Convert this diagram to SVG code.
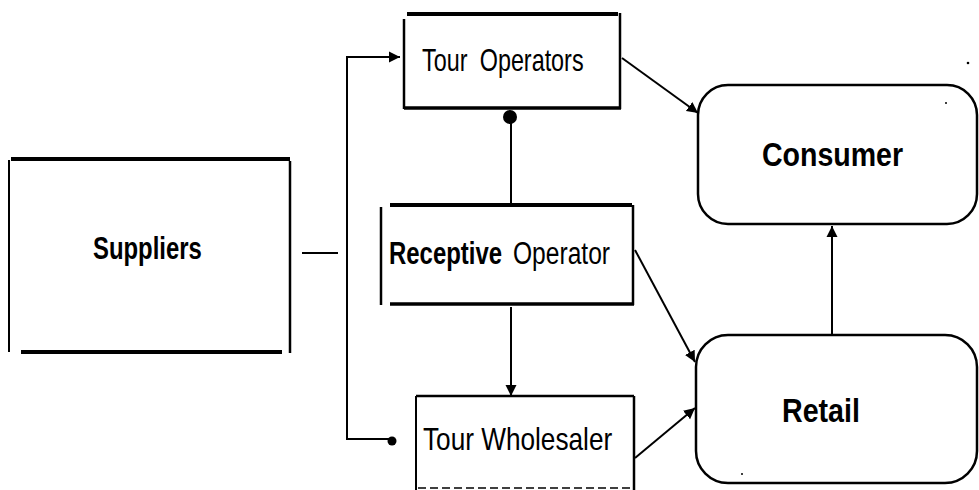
<svg xmlns="http://www.w3.org/2000/svg" width="979" height="490" viewBox="0 0 979 490">
<style>
.edge{stroke:#000;fill:none;stroke-linecap:butt}
.thick{stroke-width:4}
.side{stroke-width:2.5}
.conn{stroke:#000;stroke-width:2;fill:none}
.rbox{fill:#fff;stroke:#000;stroke-width:2.5}
.t{font-family:"Liberation Sans",Arial,sans-serif;fill:#000}
.b{font-weight:bold}
</style>
<defs>
<marker id="arr" markerUnits="userSpaceOnUse" markerWidth="12" markerHeight="12" refX="11" refY="6" orient="auto">
<path d="M0,0.5 L11,6 L0,11.5 z" fill="#000"/>
</marker>
</defs>
<rect x="0" y="0" width="979" height="490" fill="#fff"/>

<g id="suppliers">
<line class="edge thick" x1="11" y1="159" x2="290" y2="159"/>
<line class="edge" stroke-width="2" x1="9" y1="160" x2="9" y2="352"/>
<line class="edge side" x1="290" y1="161" x2="290" y2="353"/>
<line class="edge thick" x1="21" y1="352" x2="282" y2="352"/>
<text class="t b" font-size="31" transform="translate(93,259) scale(0.771,1)">Suppliers</text>
</g>

<g id="tour-operators">
<line class="edge thick" x1="407" y1="14" x2="618" y2="14"/>
<line class="edge side" x1="404" y1="19" x2="404" y2="109"/>
<line class="edge side" x1="620" y1="13" x2="620" y2="109"/>
<line class="edge" stroke-width="3.5" x1="404" y1="108" x2="621" y2="108"/>
<text class="t" font-size="32" word-spacing="8" transform="translate(422,71) scale(0.73,1)">Tour Operators</text>
</g>

<g id="receptive-operator">
<line class="edge thick" x1="390" y1="205" x2="632" y2="205"/>
<line class="edge side" x1="381" y1="207" x2="381" y2="305"/>
<line class="edge side" x1="633" y1="205" x2="633" y2="305"/>
<line class="edge" stroke-width="3.5" x1="390" y1="304" x2="634" y2="304"/>
<text class="t b" font-size="31" transform="translate(389,264) scale(0.772,1)">Receptive</text>
<text class="t" font-size="31" transform="translate(513,264) scale(0.793,1)">Operator</text>
</g>

<g id="tour-wholesaler">
<line class="edge" stroke-width="2.5" x1="416" y1="396" x2="634" y2="396"/>
<line class="edge" stroke-width="2" x1="416" y1="396" x2="416" y2="490"/>
<line class="edge" stroke-width="2.5" x1="634" y1="396" x2="634" y2="490"/>
<line class="edge" stroke="#666" stroke-width="1.5" stroke-dasharray="8 4" x1="418" y1="488" x2="632" y2="488"/>
<text class="t" font-size="31" transform="translate(423,450) scale(0.845,1)">Tour Wholesaler</text>
</g>

<g id="consumer">
<rect class="rbox" x="698" y="85" width="279" height="139" rx="30" ry="30"/>
<text class="t b" font-size="34" transform="translate(762,166) scale(0.839,1)">Consumer</text>
</g>

<g id="retail">
<rect class="rbox" x="696" y="335" width="281" height="148" rx="32" ry="32"/>
<text class="t b" font-size="34" transform="translate(782,422) scale(0.842,1)">Retail</text>
</g>

<g id="connectors">
<line class="conn" stroke-width="3" x1="302" y1="253" x2="338" y2="253"/>
<path class="conn" stroke-width="2.5" d="M391,439 H347 V57 H400" marker-end="url(#arr)"/>
<circle cx="392" cy="441" r="4.5" fill="#000"/>
<line class="conn" x1="511" y1="117" x2="511" y2="198"/>
<line class="conn" stroke="#999" stroke-width="1" x1="511" y1="198" x2="511" y2="204"/>
<circle cx="510" cy="117" r="7" fill="#000"/>
<line class="conn" x1="511" y1="307" x2="511" y2="396" marker-end="url(#arr)"/>
<line class="conn" stroke-width="2.5" x1="622" y1="58" x2="698" y2="113" marker-end="url(#arr)"/>
<line class="conn" stroke-width="2.2" x1="635" y1="250" x2="695" y2="362" marker-end="url(#arr)"/>
<line class="conn" stroke-width="2.2" x1="635" y1="458" x2="695" y2="408" marker-end="url(#arr)"/>
<line class="conn" x1="832" y1="335" x2="832" y2="226" marker-end="url(#arr)"/>
</g>

<g id="specks" fill="#000">
<circle cx="968" cy="63" r="1.3"/>
<circle cx="946" cy="103" r="1"/>
<circle cx="742" cy="474" r="1"/>
</g>
</svg>
